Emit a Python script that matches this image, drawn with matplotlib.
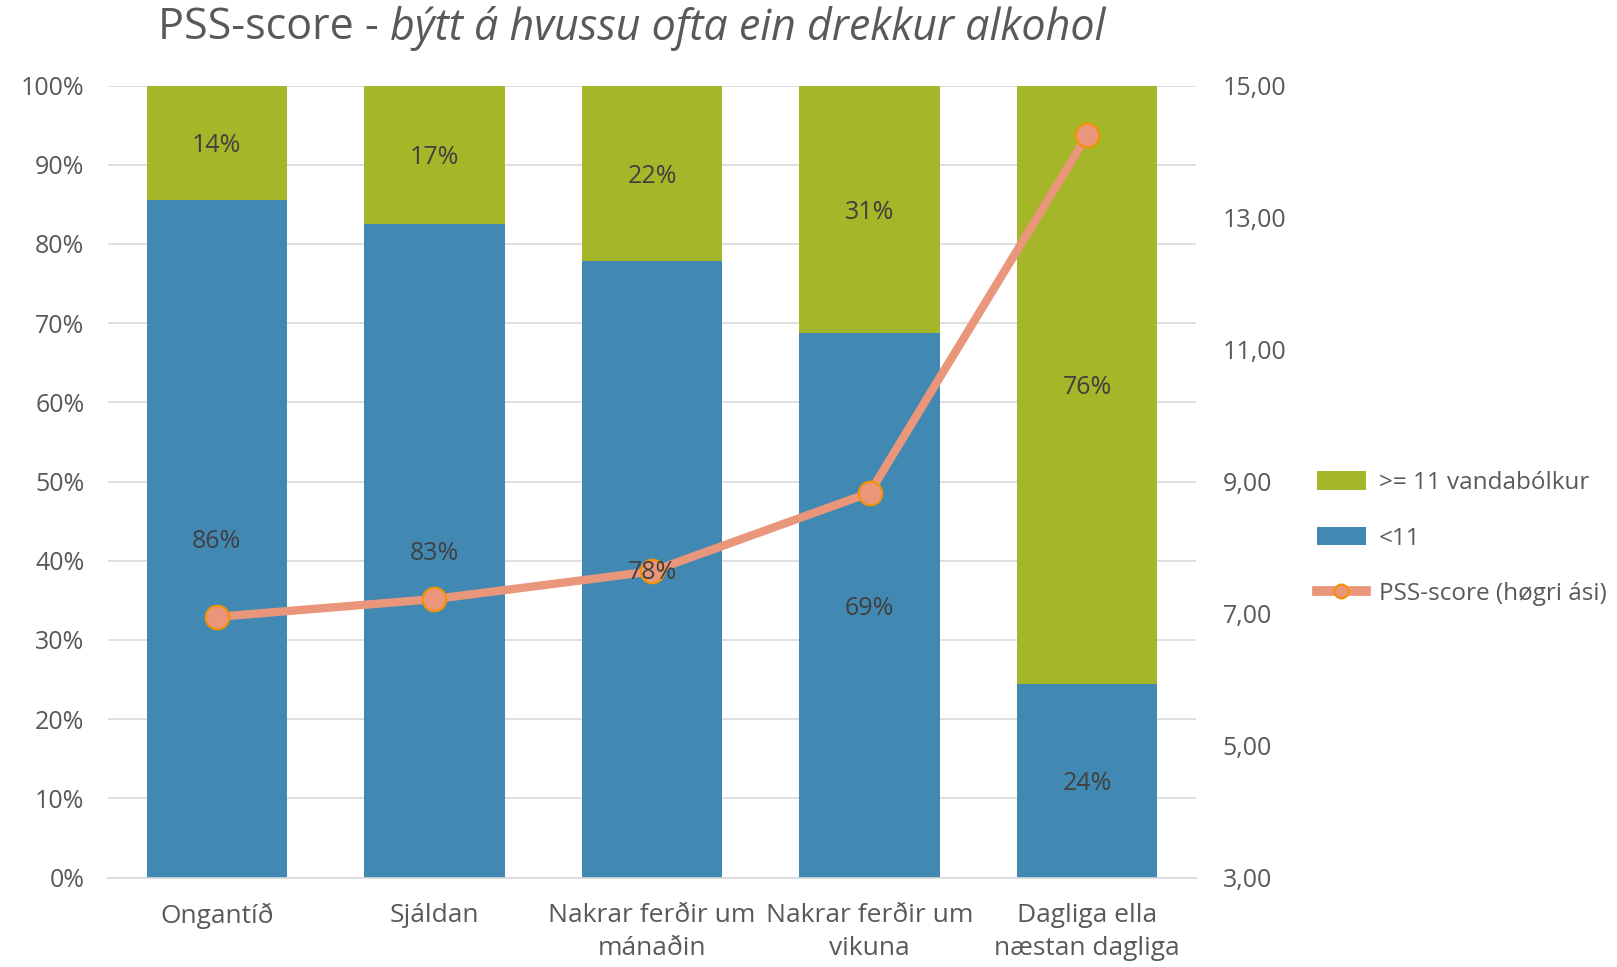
import matplotlib.pyplot as plt
import numpy as np
from matplotlib.ticker import FuncFormatter
from matplotlib.lines import Line2D

categories = ["Ongantíð", "Sjáldan", "Nakrar ferðir um\nmánaðin", "Nakrar ferðir um\nvikuna", "Dagliga ella\nnæstan dagliga"]
low = [85.6, 82.5, 77.9, 68.8, 24.4]       # <11
high = [14.4, 17.5, 22.1, 31.2, 75.6]      # >= 11 vandabólkur
low_labels = ["86%", "83%", "78%", "69%", "24%"]
high_labels = ["14%", "17%", "22%", "31%", "76%"]
pss = [6.95, 7.22, 7.64, 8.83, 14.25]

blue = "#4189B3"
green = "#A5B629"
salmon = "#EA967A"
orange = "#F39200"
txt = "#595959"

plt.rcParams['font.family'] = ['Open Sans', 'DejaVu Sans']

fig = plt.figure(figsize=(16.17, 9.67), dpi=100)
ax = fig.add_axes([0.0668, 0.0925, 0.6729, 0.819])
x = np.arange(len(categories))
w = 0.645

b1 = ax.bar(x, low, w, color=blue, label="<11", zorder=2)
b2 = ax.bar(x, high, w, bottom=low, color=green, label=">= 11 vandabólkur", zorder=2)

ax.set_xlim(-0.5, len(x) - 0.5)
ax.set_ylim(0, 100)
ax.set_yticks(np.arange(0, 101, 10))
ax.yaxis.set_major_formatter(FuncFormatter(lambda v, p: f"{int(v)}%"))
ax.set_xticks(x)
ax.set_xticklabels(categories, fontsize=19, color=txt, linespacing=1.45)
ax.tick_params(axis="y", labelsize=18, labelcolor=txt, length=0, pad=17)
ax.tick_params(axis="x", length=0, pad=18)
ax.grid(axis="y", color="#D9D9D9", linewidth=1.2, zorder=0)
for s in ["top", "right", "left"]:
    ax.spines[s].set_visible(False)
ax.spines["bottom"].set_color("#D9D9D9")
ax.spines["bottom"].set_linewidth(1.2)

ax2 = ax.twinx()
ln, = ax2.plot(x, pss, color=salmon, linewidth=6, marker="o", markersize=17,
               markerfacecolor=salmon, markeredgecolor=orange, markeredgewidth=1.5,
               label="PSS-score (høgri ási)", zorder=4)
ax2.set_ylim(3, 15)
ax2.set_yticks(np.arange(3, 16, 2))
ax2.yaxis.set_major_formatter(FuncFormatter(lambda v, p: f"{v:.2f}".replace(".", ",")))
ax2.tick_params(axis="y", labelsize=18, labelcolor=txt, length=0, pad=19)
for s in ["top", "right", "left", "bottom"]:
    ax2.spines[s].set_visible(False)

# data labels on top of the line
for i in range(len(x)):
    ax2.text(x[i], low[i] / 2, low_labels[i], ha="center", va="center_baseline", fontsize=18,
             color="#404040", zorder=6, transform=ax.transData)
    ax2.text(x[i], low[i] + high[i] / 2, high_labels[i], ha="center", va="center_baseline", fontsize=18,
             color="#404040", zorder=6, transform=ax.transData)

line_handle = Line2D([], [], color=salmon, linewidth=7, marker="o", markersize=10,
                     markerfacecolor=salmon, markeredgecolor=orange, markeredgewidth=1.5)
fig.legend([b2, b1, line_handle], [">= 11 vandabólkur", "<11", "PSS-score (høgri ási)"],
           loc="center left", bbox_to_anchor=(0.801, 0.443), frameon=False,
           fontsize=17.5, labelcolor=txt, handlelength=2.0, handleheight=0.8,
           labelspacing=1.3, handletextpad=0.55)

t1 = fig.text(0.098, 0.994, "PSS-score - ", fontsize=31, color=txt, va="top", ha="left")
fig.canvas.draw()
bb = t1.get_window_extent()
fig.text(bb.x1 / fig.bbox.width, 0.994, "býtt á hvussu ofta ein drekkur alkohol", fontsize=31,
         color=txt, va="top", ha="left", style="italic")

fig.savefig("out.png", dpi=100)
